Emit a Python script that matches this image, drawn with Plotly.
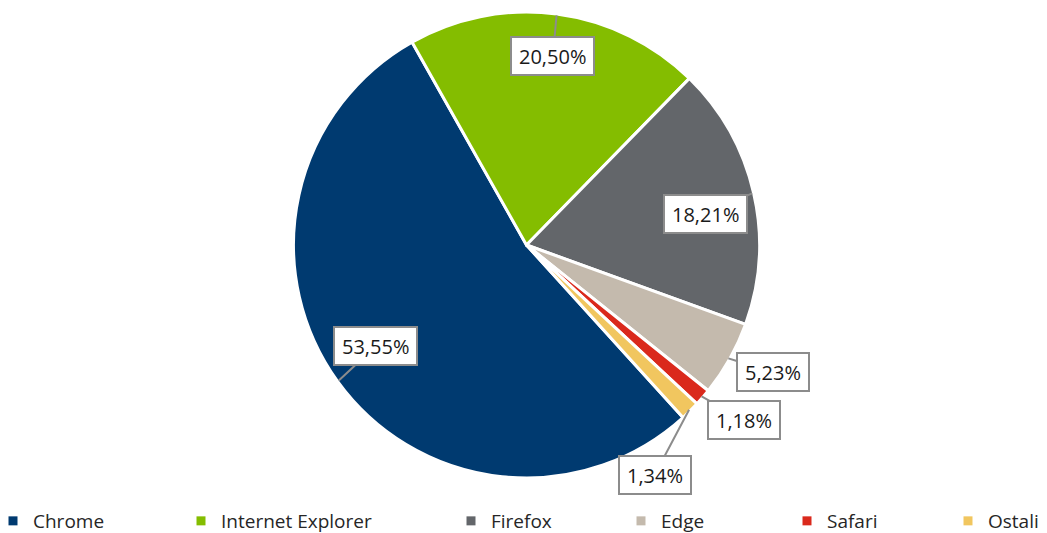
import math
import plotly.graph_objects as go

# ---- data ----
categories = ["Chrome", "Internet Explorer", "Firefox", "Edge", "Safari", "Ostali"]
shares = [53.55, 20.50, 18.21, 5.23, 1.18, 1.34]
colors = ["#003A70", "#84BD00", "#63666A", "#C4BAAD", "#DA291C", "#F1C65F"]

# ---- geometry / style ----
PAGE_W, PAGE_H = 1047, 533
OFF = 8  # page body margin
W, H = PAGE_W - OFF, PAGE_H - OFF
CX, CY, R = 526.5 - OFF, 245.0 - OFF, 233.0
ROTATION = 137.8
FONT = "Open Sans, Segoe UI, sans-serif"

# label placement: radial factor of box centre and angle shift from slice middle
label_radius = [0.78, 0.82, 0.78, 1.19, 1.20, 1.13]
label_shift = [2.0, 0.5, 3.0, -2.0, -2.0, 15.5]
# legend text start (page px) for each entry
legend_text_px = [33, 221, 491, 661, 827, 988]
LEGEND_Y = 521 - OFF

fig = go.Figure()
fig.add_trace(go.Pie(
    labels=categories, values=shares, sort=False, direction="clockwise",
    rotation=ROTATION, textinfo="none", showlegend=False,
    marker=dict(colors=colors, line=dict(color="white", width=3)),
    domain=dict(x=[(CX - R) / W, (CX + R) / W], y=[1 - (CY + R) / H, 1 - (CY - R) / H]),
    hovertemplate="%{label}: %{value:.2f}%<extra></extra>",
))

total = sum(shares)
annotations = []
start = ROTATION
Rv = R - 1.5
for i, v in enumerate(shares):
    sweep = v / total * 360.0
    mid = start + sweep / 2
    start += sweep
    t = math.radians(mid)
    tipx = CX + Rv * math.sin(t)
    tipy = CY - Rv * math.cos(t)
    tl = math.radians(mid + label_shift[i])
    lx = CX + R * label_radius[i] * math.sin(tl)
    ly = CY - R * label_radius[i] * math.cos(tl)
    annotations.append(dict(
        x=tipx / W, y=1 - tipy / H, xref="paper", yref="paper",
        ax=lx - tipx, ay=ly - tipy, axref="pixel", ayref="pixel",
        text=f"{v:.2f}".replace(".", ",") + "%",
        showarrow=True, arrowhead=0, arrowwidth=2, arrowcolor="#8C8C8C",
        bgcolor="white", bordercolor="#8C8C8C", borderwidth=2, borderpad=7,
        height=22, font=dict(family=FONT, size=20, color="#1A1A1A"),
    ))

layout_legends = {}
for i, (name, col) in enumerate(zip(categories, colors)):
    key = "legend" if i == 0 else f"legend{i + 1}"
    fig.add_trace(go.Scatter(
        x=[None], y=[None], mode="markers", name=name, legend=key,
        marker=dict(symbol="square", size=9, color=col), hoverinfo="skip",
    ))
    layout_legends[key] = dict(
        x=(legend_text_px[i] - OFF - 40) / W, xanchor="left",
        y=(H - LEGEND_Y) / H, yanchor="middle", orientation="h",
        font=dict(family=FONT, size=19, color="#262626"),
        bgcolor="rgba(0,0,0,0)", borderwidth=0,
    )

fig.update_layout(
    width=W, height=H, margin=dict(l=0, r=0, t=0, b=0, autoexpand=False),
    paper_bgcolor="white", plot_bgcolor="white",
    xaxis=dict(visible=False), yaxis=dict(visible=False),
    annotations=annotations, showlegend=True,
    **layout_legends,
)
fig.write_html("out.html")
